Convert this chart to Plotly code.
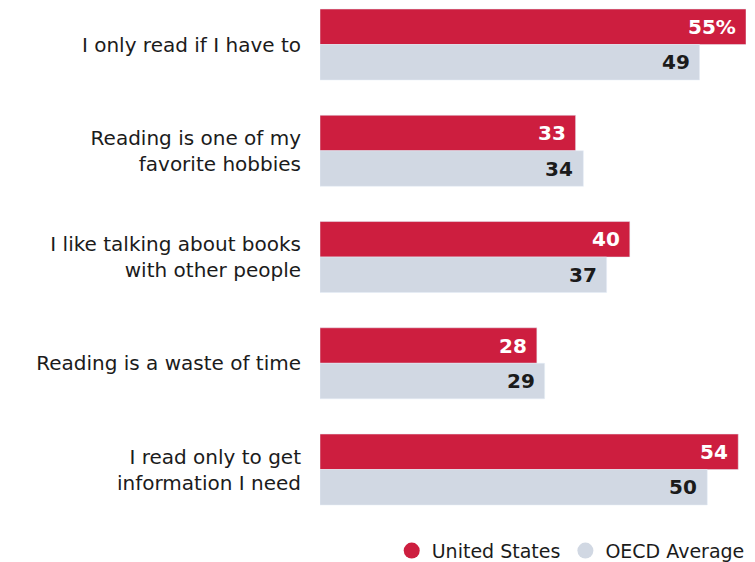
import plotly.graph_objects as go

categories = [
    "I only read if I have to",
    "Reading is one of my<br>favorite hobbies",
    "I like talking about books<br>with other people",
    "Reading is a waste of time",
    "I read only to get<br>information I need",
]
us_values = [55, 33, 40, 28, 54]
oecd_values = [49, 34, 37, 29, 50]
us_labels = ["55%", "33", "40", "28", "54"]
oecd_labels = ["49", "34", "37", "29", "50"]

RED = "#CD1E3F"
GREY = "#D1D8E3"
FONT = "DejaVu Sans"
BARGAP = 0.332

pos = list(range(len(categories)))
fig = go.Figure()
fig.add_trace(go.Bar(y=pos, x=us_values, orientation="h", marker_color=RED,
                     name="United States", showlegend=False, hoverinfo="x"))
fig.add_trace(go.Bar(y=pos, x=oecd_values, orientation="h", marker_color=GREY,
                     name="OECD Average", showlegend=False, hoverinfo="x"))
# legend entries with circle markers
fig.add_trace(go.Scatter(x=[None], y=[None], mode="markers", name="United States",
                         marker=dict(color=RED, size=17, symbol="circle")))
fig.add_trace(go.Scatter(x=[None], y=[None], mode="markers", name="OECD Average",
                         marker=dict(color=GREY, size=17, symbol="circle")))

half = (1 - BARGAP) / 4
annotations = []
for i in pos:
    annotations.append(dict(x=us_values[i], y=i - half, text=us_labels[i], showarrow=False,
                            xanchor="right", xshift=-8, yanchor="middle",
                            font=dict(family=FONT, size=20, color="white", weight="bold")))
    annotations.append(dict(x=oecd_values[i], y=i + half, text=oecd_labels[i], showarrow=False,
                            xanchor="right", xshift=-8, yanchor="middle",
                            font=dict(family=FONT, size=20, color="#1b1b1b", weight="bold")))

fig.update_layout(
    width=755, height=562,
    margin=dict(l=320, r=9, t=0, b=42),
    plot_bgcolor="white", paper_bgcolor="white",
    barmode="group", bargap=BARGAP, bargroupgap=0,
    annotations=annotations,
    font=dict(family=FONT, color="#1b1b1b"),
    xaxis=dict(range=[0, 55], visible=False, fixedrange=True),
    yaxis=dict(range=[4.475, -0.419], tickvals=pos, ticktext=categories,
               showgrid=False, zeroline=False, showline=False, ticks="",
               ticklabelstandoff=18, tickfont=dict(family=FONT, size=20, color="#1b1b1b")),
    legend=dict(orientation="h", x=0.993, xref="container", xanchor="right",
                y=0.02, yref="container", yanchor="middle",
                font=dict(family=FONT, size=19, color="#1b1b1b"),
                itemwidth=30, tracegroupgap=0),
)

fig.write_html("out.html")
